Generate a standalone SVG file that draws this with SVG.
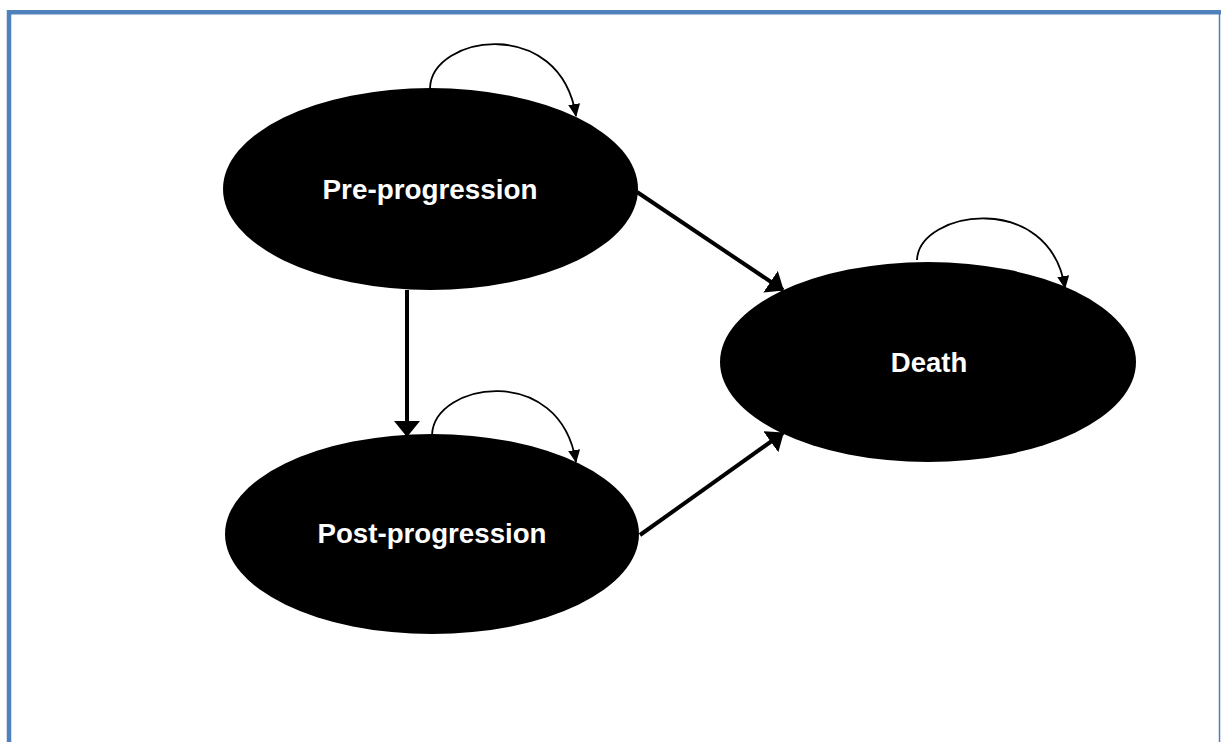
<svg xmlns="http://www.w3.org/2000/svg" width="1221" height="742" viewBox="0 0 1221 742">
  <style>
    .node { fill: #000; }
    .label { fill: #fff; font-family: "Liberation Sans", Arial, sans-serif; font-weight: bold; font-size: 27.5px; text-anchor: middle; }
    .thick { stroke: #000; stroke-width: 4; fill: none; }
    .loop { stroke: #000; stroke-width: 1.8; fill: none; }
    .frame { stroke: #4f81bd; fill: none; }
  </style>
  <defs>
    <marker id="bigHead" markerUnits="userSpaceOnUse" markerWidth="16" markerHeight="26" viewBox="0 0 16 26" refX="15" refY="13" orient="auto">
      <path d="M0,0 L16,13 L0,26 Z" fill="#000"/>
    </marker>
    <marker id="smallHead" markerUnits="userSpaceOnUse" markerWidth="13" markerHeight="12" viewBox="0 0 13 12" refX="12" refY="6" orient="auto">
      <path d="M0,0 L13,6 L0,12 Z" fill="#000"/>
    </marker>
  </defs>

  <g id="frame">
    <line class="frame" x1="7" y1="12.3" x2="1221" y2="12.3" stroke-width="4.5"/>
    <line class="frame" x1="9" y1="10" x2="9" y2="742" stroke-width="4.5"/>
    <line class="frame" x1="1219.5" y1="12" x2="1219.5" y2="742" stroke-width="1.5"/>
  </g>

  <g id="node-pre">
    <ellipse class="node" cx="430.5" cy="189" rx="207.5" ry="101"/>
    <text class="label" x="430" y="199" textLength="215" lengthAdjust="spacingAndGlyphs">Pre-progression</text>
  </g>
  <g id="node-post">
    <ellipse class="node" cx="432" cy="534" rx="207" ry="100"/>
    <text class="label" x="432" y="543" textLength="229" lengthAdjust="spacingAndGlyphs">Post-progression</text>
  </g>
  <g id="node-death">
    <ellipse class="node" cx="928" cy="362" rx="208" ry="100"/>
    <text class="label" x="929" y="372">Death</text>
  </g>

  <g id="connectors">
    <line class="thick" x1="407" y1="290" x2="407" y2="436" marker-end="url(#bigHead)"/>
    <line class="thick" x1="637" y1="192" x2="783" y2="290" marker-end="url(#bigHead)"/>
    <line class="thick" x1="640" y1="535" x2="783" y2="433" marker-end="url(#bigHead)"/>
    <path class="loop" d="M430,88 C432,35 560,15 576,116" marker-end="url(#smallHead)"/>
    <path class="loop" d="M432,435 C434,382 560,362 576,462" marker-end="url(#smallHead)"/>
    <path class="loop" d="M917,260 C919,210 1050,190 1065,288" marker-end="url(#smallHead)"/>
  </g>
</svg>
